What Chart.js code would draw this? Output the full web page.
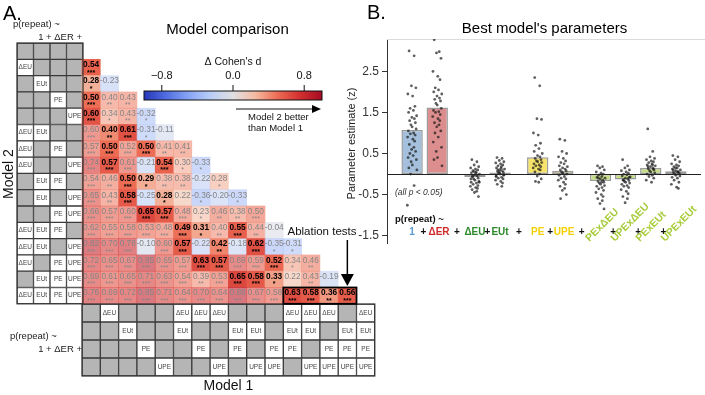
<!DOCTYPE html>
<html>
<head>
<meta charset="utf-8">
<script src="https://cdn.jsdelivr.net/npm/chart.js@4/dist/chart.umd.min.js"></script>
<style>
body{margin:0;background:#fff}
#wrap{position:relative;width:705px;height:395px}
canvas{position:absolute;left:0;top:0}
</style>
</head>
<body>
<div id="wrap">
<canvas id="cmp" width="705" height="395"></canvas>
<canvas id="par" width="705" height="395"></canvas>
</div>
<script>
Chart.defaults.font.family = "'Liberation Sans', Arial, sans-serif"

// ---------- A. model comparison ----------
let terms = ["ΔEU", "EUt", "PE", "UPE"]
let models = [
  [], ["ΔEU"], ["EUt"], ["PE"], ["UPE"],
  ["ΔEU","EUt"], ["ΔEU","PE"], ["ΔEU","UPE"], ["EUt","PE"], ["EUt","UPE"], ["PE","UPE"],
  ["ΔEU","EUt","PE"], ["ΔEU","EUt","UPE"], ["ΔEU","PE","UPE"], ["EUt","PE","UPE"],
  ["ΔEU","EUt","PE","UPE"]
]
// row = Model 2, column = Model 1
let dCohen = [
  [],
  [0.54],
  [0.28, -0.23],
  [0.50, 0.40, 0.43],
  [0.60, 0.34, 0.43, -0.32],
  [0.60, 0.40, 0.61, -0.31, -0.11],
  [0.57, 0.50, 0.52, 0.50, 0.41, 0.41],
  [0.74, 0.57, 0.61, -0.21, 0.54, 0.30, -0.33],
  [0.54, 0.46, 0.50, 0.29, 0.38, 0.38, -0.22, 0.28],
  [0.65, 0.43, 0.58, -0.25, 0.28, 0.22, -0.36, -0.20, -0.33],
  [0.66, 0.57, 0.60, 0.65, 0.57, 0.48, 0.23, 0.46, 0.38, 0.50],
  [0.62, 0.55, 0.58, 0.53, 0.48, 0.49, 0.31, 0.40, 0.55, 0.44, -0.04],
  [0.82, 0.70, 0.78, -0.10, 0.60, 0.57, -0.22, 0.42, -0.18, 0.62, -0.35, -0.31],
  [0.72, 0.65, 0.67, 0.85, 0.65, 0.57, 0.63, 0.57, 0.69, 0.59, 0.52, 0.34, 0.46],
  [0.69, 0.61, 0.65, 0.71, 0.63, 0.54, 0.39, 0.53, 0.65, 0.58, 0.33, 0.22, 0.43, -0.19],
  [0.76, 0.69, 0.72, 0.85, 0.71, 0.64, 0.70, 0.64, 0.88, 0.67, 0.58, 0.63, 0.58, 0.36, 0.56]
]
let nStars = [
  [],
  [3],
  [1, 0],
  [3, 2, 2],
  [3, 1, 2, 1],
  [3, 2, 3, 1, 0],
  [3, 3, 3, 3, 2, 2],
  [3, 3, 3, 0, 3, 1, 1],
  [3, 2, 3, 1, 2, 2, 0, 1],
  [3, 2, 3, 0, 1, 0, 1, 0, 1],
  [3, 3, 3, 3, 3, 3, 1, 2, 2, 3],
  [3, 3, 3, 3, 3, 3, 1, 2, 3, 2, 0],
  [3, 3, 3, 0, 3, 3, 0, 2, 0, 3, 1, 1],
  [3, 3, 3, 3, 3, 3, 3, 3, 3, 3, 3, 1, 2],
  [3, 3, 3, 3, 3, 3, 2, 3, 3, 3, 1, 0, 2, 0],
  [3, 3, 3, 3, 3, 3, 3, 3, 3, 3, 3, 3, 3, 2, 3]
]
let cbTicks = [-0.8, 0.0, 0.8]
let ablation = {row: 15, from: 11, to: 14}

// ---------- B. best model's parameters ----------
let barNames = ["1", "ΔER", "ΔEU", "EUt", "PE", "UPE", "PExΔEU", "UPExΔEU", "PExEUt", "UPExEUt"]
let barPos = [0, 1, 2.5, 3.5, 5, 6, 7.5, 8.5, 9.5, 10.5]
let barMeans = [1.07, 1.62, -0.07, 0.04, 0.41, 0.08, -0.17, -0.13, 0.15, 0.07]
let yTicks = [-1.5, -0.5, 0.5, 1.5, 2.5]
let ptsIntercept = [3.0, 2.88, 2.15, 2.1, 1.95, 1.9, 1.65, 1.6, 1.55, 1.5, 1.42, 1.38, 1.35, 1.3, 1.25, 1.2, 1.15, 1.1, 1.05, 1.0, 0.98, 0.95, 0.9, 0.85, 0.8, 0.72, 0.65, 0.6, 0.55, 0.5, 0.45, 0.4, 0.35, 0.3, 0.22, 0.15, 0.1, 0.0, -0.28, -0.76]
let ptsER = [3.27, 2.98, 2.95, 2.82, 2.5, 2.38, 2.3, 2.1, 2.05, 2.0, 1.95, 1.9, 1.85, 1.82, 1.78, 1.72, 1.68, 1.6, 1.55, 1.52, 1.5, 1.45, 1.4, 1.35, 1.3, 1.25, 1.2, 1.15, 1.05, 1.0, 0.9, 0.78, 0.65, 0.55, 0.4, 0.35, 0.2]
let ptsEU = [0.35, 0.3, 0.22, 0.18, 0.15, 0.12, 0.1, 0.08, 0.05, 0.03, 0.0, -0.02, -0.05, -0.07, -0.1, -0.12, -0.15, -0.18, -0.2, -0.22, -0.25, -0.28, -0.3, -0.33, -0.35, -0.38, -0.42, -0.45, -0.55, -0.05, 0.02, -0.12, -0.2, 0.06]
let ptsEUt = [0.4, 0.38, 0.33, 0.3, 0.27, 0.25, 0.22, 0.2, 0.18, 0.15, 0.12, 0.1, 0.08, 0.06, 0.04, 0.02, 0.0, -0.02, -0.05, -0.08, -0.1, -0.12, -0.15, -0.18, -0.22, -0.25, -0.3, 0.05, -0.03, 0.1, 0.14, -0.06]
let ptsPE = [2.35, 2.15, 1.35, 1.33, 1.0, 0.95, 0.75, 0.7, 0.62, 0.55, 0.5, 0.45, 0.42, 0.38, 0.35, 0.32, 0.3, 0.28, 0.25, 0.22, 0.2, 0.18, 0.15, 0.12, 0.1, 0.05, 0.0, -0.05, -0.12, -0.18, -0.2]
let ptsUPE = [0.85, 0.82, 0.55, 0.5, 0.42, 0.38, 0.32, 0.28, 0.25, 0.2, 0.18, 0.15, 0.12, 0.1, 0.08, 0.05, 0.02, 0.0, -0.03, -0.06, -0.1, -0.12, -0.15, -0.2, -0.25, -0.3, -0.35, -0.4, -0.5, -0.6]
let ptsPExEU = [0.2, 0.18, 0.15, 0.1, 0.05, 0.02, 0.0, -0.03, -0.06, -0.08, -0.1, -0.12, -0.15, -0.18, -0.2, -0.22, -0.25, -0.28, -0.3, -0.33, -0.36, -0.4, -0.45, -0.5, -0.55, -0.6, -0.65, -0.72, -0.85, -0.1, -0.2]
let ptsUPExEU = [0.35, 0.2, 0.15, 0.1, 0.08, 0.05, 0.02, 0.0, -0.02, -0.05, -0.07, -0.1, -0.12, -0.14, -0.16, -0.18, -0.2, -0.22, -0.25, -0.28, -0.3, -0.33, -0.38, -0.42, -0.48, -0.55, -0.6, -0.7, -0.08, -0.15]
let ptsPExEUt = [1.1, 0.55, 0.42, 0.38, 0.35, 0.32, 0.3, 0.28, 0.25, 0.22, 0.2, 0.18, 0.15, 0.13, 0.1, 0.08, 0.05, 0.03, 0.0, -0.03, -0.06, -0.1, -0.15, -0.2, 0.12, 0.18, 0.22]
let ptsUPExEUt = [0.45, 0.42, 0.35, 0.3, 0.25, 0.22, 0.2, 0.18, 0.15, 0.12, 0.1, 0.08, 0.06, 0.04, 0.02, 0.0, -0.03, -0.05, -0.08, -0.1, -0.15, -0.2, -0.25, -0.32, -0.35, 0.1, 0.05, 0.15]
let jitter = [-0.12, 0.08, -0.03, 0.15, -0.17, 0.02, 0.11, -0.08, 0.05, -0.14, 0.18, -0.01, 0.09, -0.1, 0.13, -0.05, 0.0, 0.16, -0.15, 0.06, -0.07, 0.12, -0.18, 0.03, 0.1, -0.11, 0.07, -0.02, 0.14, -0.09, 0.04, -0.16, 0.17, -0.04, 0.01, -0.13, 0.19, -0.06, 0.08, -0.19]

// formula under panel B: text, x position (same units as bars), colour key
let formula = [
  ["1", 0, "one"], ["+", 0.45, "op"], ["ΔER", 1.07, "er"], ["+", 1.78, "op"],
  ["ΔEU", 2.5, "eu"], ["+", 3.0, "op"], ["EUt", 3.5, "eu"], ["+", 4.25, "op"],
  ["PE", 5, "pe"], ["+", 5.5, "op"], ["UPE", 6.05, "pe"], ["+", 6.75, "op"],
  ["+", 8.0, "op"], ["+", 9.0, "op"], ["+", 10.0, "op"]
]
let rotated = [["PExΔEU", 7.5], ["UPExΔEU", 8.5], ["PExEUt", 9.5], ["UPExEUt", 10.5]]

// ---------- styles ----------
// diverging map, stops at -1, -0.75, ... , 1
let cw = [[40,55,185],[80,110,225],[135,165,245],[186,205,247],[224,224,227],[245,186,162],[236,108,84],[210,48,48],[165,10,35]]
function cmap(v) {
  let t = Math.max(0, Math.min(1, (v + 1) / 2)) * (cw.length - 1)
  let i = Math.min(Math.floor(t), cw.length - 2)
  let f = t - i
  return cw[i].map((a, k) => Math.round(a + (cw[i+1][k] - a) * f))
}
function nested(r, c) {
  let a = models[r], b = models[c]
  return a.length == b.length + 1 && b.every(t => a.includes(t))
}
let termCol = {one:"#5a9bd4", er:"#d02b2b", eu:"#2c8a2c", pe:"#f4d000", ix:"#a8cc3c", op:"#111"}
let barFill = ["#a5c0dc", "#dc8d8d", "#62a862", "#62a862", "#f7e36a", "#f7e36a", "#c7de88", "#c7de88", "#c7de88", "#c7de88"]

function txt(ctx, s, x, y, font, color, align, base) {
  ctx.font = font
  ctx.fillStyle = color
  ctx.textAlign = align || "center"
  ctx.textBaseline = base || "middle"
  ctx.fillText(s, x, y)
}
const FF = "'Liberation Sans', Arial, sans-serif"

// ---------- chart A ----------
let heat = [], heatBg = []
for (let r = 0; r < dCohen.length; r++) {
  for (let c = 0; c < dCohen[r].length; c++) {
    let v = dCohen[r][c]
    let b = nested(r, c)
    let rgb = cmap(v)
    heat.push({x: c, y: [r - 0.5, r + 0.5], v: v, s: nStars[r][c], b: b})
    heatBg.push(b ? "rgb(" + rgb + ")" : "rgba(" + rgb + ",0.6)")
  }
}
let rowCells = [], rowBg = []
models.forEach((m, r) => terms.forEach((t, k) => {
  rowCells.push({x: k, y: [r - 0.5, r + 0.5], t: m.includes(t) ? t : ""})
  rowBg.push(m.includes(t) ? "#ffffff" : "#b5b5b5")
}))
let colCells = [], colBg = []
models.forEach((m, c) => terms.forEach((t, k) => {
  colCells.push({x: c, y: [k - 0.5, k + 0.5], t: m.includes(t) ? t : ""})
  colBg.push(m.includes(t) ? "#ffffff" : "#b5b5b5")
}))

// layout of panel A (pixels)
const W = 705, H = 395
const colPx = 18.3, x0 = 82
const rowPx = 16.3, y0 = 43
const lcPx = 16.5, lx0 = 17
const brPx = 18, by0 = 304
const cbL = 144, cbR = 322
function lin(startPx, unit, size) { let mn = -0.5 - startPx / unit; return {min: mn, max: mn + size / unit} }

const panelA = {
  id: "panelA",
  afterDatasetsDraw(chart) {
    const ctx = chart.ctx
    const sx = chart.scales.x, sy = chart.scales.y, sxl = chart.scales.xl, syb = chart.scales.yb, scb = chart.scales.cb
    ctx.save()
    // cell texts
    heat.forEach(d => {
      let x = sx.getPixelForValue(d.x), y = sy.getPixelForValue((d.y[0] + d.y[1]) / 2)
      let col = d.b ? "#000" : "#858585"
      txt(ctx, d.v.toFixed(2), x, y - 2.6, (d.b ? "bold " : "") + "8.3px " + FF, col)
      if (d.s > 0) txt(ctx, "*".repeat(d.s), x, y + 5.2, (d.b ? "bold " : "") + "7px " + FF, col)
    })
    rowCells.forEach(d => {
      if (d.t) txt(ctx, d.t, sxl.getPixelForValue(d.x), sy.getPixelForValue((d.y[0] + d.y[1]) / 2), "6.5px " + FF, "#444")
    })
    colCells.forEach(d => {
      if (d.t) txt(ctx, d.t, sx.getPixelForValue(d.x), syb.getPixelForValue((d.y[0] + d.y[1]) / 2), "6.5px " + FF, "#444")
    })
    // outer frames of the model matrices
    ctx.strokeStyle = "#333"
    ctx.lineWidth = 1.2
    ctx.strokeRect(sxl.getPixelForValue(-0.5), sy.getPixelForValue(-0.5), sxl.getPixelForValue(3.5) - sxl.getPixelForValue(-0.5), sy.getPixelForValue(15.5) - sy.getPixelForValue(-0.5))
    ctx.strokeRect(sx.getPixelForValue(-0.5), syb.getPixelForValue(-0.5), sx.getPixelForValue(15.5) - sx.getPixelForValue(-0.5), syb.getPixelForValue(3.5) - syb.getPixelForValue(-0.5))
    // ablation box + arrow
    let ax0 = sx.getPixelForValue(ablation.from - 0.5), ax1 = sx.getPixelForValue(ablation.to + 0.5)
    let ay0 = sy.getPixelForValue(ablation.row - 0.5), ay1 = sy.getPixelForValue(ablation.row + 0.5)
    ctx.lineWidth = 1.8
    ctx.strokeStyle = "#000"
    ctx.strokeRect(ax0, ay0, ax1 - ax0, ay1 - ay0)
    let axc = sx.getPixelForValue(ablation.to)
    txt(ctx, "Ablation tests", ax1, 232, "11.5px " + FF, "#111", "right")
    ctx.lineWidth = 1.5
    ctx.beginPath(); ctx.moveTo(axc, 240); ctx.lineTo(axc, 276); ctx.stroke()
    ctx.fillStyle = "#000"
    ctx.beginPath(); ctx.moveTo(axc - 6.5, 274); ctx.lineTo(axc + 6.5, 274); ctx.lineTo(axc, ay0 - 1.5); ctx.closePath(); ctx.fill()
    // colour bar
    let cx0 = scb.getPixelForValue(-1), cx1 = scb.getPixelForValue(1)
    let g = ctx.createLinearGradient(cx0, 0, cx1, 0)
    for (let i = 0; i <= 40; i++) { let v = -1 + i / 20; g.addColorStop(i / 40, "rgb(" + cmap(v) + ")") }
    ctx.fillStyle = g
    ctx.fillRect(cx0, 91, cx1 - cx0, 9)
    ctx.lineWidth = 1
    ctx.strokeStyle = "#111"
    ctx.strokeRect(cx0, 91, cx1 - cx0, 9)
    cbTicks.forEach(v => {
      let x = scb.getPixelForValue(v)
      ctx.beginPath(); ctx.moveTo(x, 85); ctx.lineTo(x, 91); ctx.stroke()
      txt(ctx, (v < 0 ? "\u2212" : "") + Math.abs(v).toFixed(1), x, 76, "11px " + FF, "#111")
    })
    txt(ctx, "Δ Cohen's d", scb.getPixelForValue(0), 62, "10.5px " + FF, "#111")
    ctx.lineWidth = 1.2
    ctx.beginPath(); ctx.moveTo(236, 109); ctx.lineTo(314, 109); ctx.stroke()
    ctx.fillStyle = "#000"
    ctx.beginPath(); ctx.moveTo(312, 105); ctx.lineTo(321, 109); ctx.lineTo(312, 113); ctx.closePath(); ctx.fill()
    txt(ctx, "Model 2 better", 248, 117, "9.5px " + FF, "#111", "left")
    txt(ctx, "than Model 1", 248, 128, "9.5px " + FF, "#111", "left")
    // titles and labels
    txt(ctx, "A.", 3, 14, "20px " + FF, "#000", "left")
    txt(ctx, "Model comparison", 227.5, 30, "15px " + FF, "#000")
    txt(ctx, "p(repeat) ~", 13, 24, "9.5px " + FF, "#222", "left")
    txt(ctx, "1 + ΔER +", 82, 37, "9.5px " + FF, "#222", "right")
    txt(ctx, "p(repeat) ~", 10, 336, "9.5px " + FF, "#222", "left")
    txt(ctx, "1 + ΔER +", 82, 349, "9.5px " + FF, "#222", "right")
    txt(ctx, "Model 1", sx.getPixelForValue(7.5), 386, "14px " + FF, "#111")
    ctx.translate(9, 174); ctx.rotate(-Math.PI / 2)
    txt(ctx, "Model 2", 0, 0, "14px " + FF, "#111")
    ctx.restore()
  }
}

new Chart(document.getElementById("cmp"), {
  type: "bar",
  data: {
    datasets: [
      {data: heat, backgroundColor: heatBg, borderWidth: 0, xAxisID: "x", yAxisID: "y", grouped: false, barPercentage: 1, categoryPercentage: 1},
      {data: rowCells, backgroundColor: rowBg, borderColor: "#3a3a3a", borderWidth: 1, borderSkipped: false, xAxisID: "xl", yAxisID: "y", grouped: false, barPercentage: 1, categoryPercentage: 1},
      {data: colCells, backgroundColor: colBg, borderColor: "#3a3a3a", borderWidth: 1, borderSkipped: false, xAxisID: "x", yAxisID: "yb", grouped: false, barPercentage: 1, categoryPercentage: 1}
    ]
  },
  options: {
    responsive: false, animation: false, events: [],
    layout: {padding: 0},
    plugins: {legend: {display: false}, tooltip: {enabled: false}},
    scales: {
      x: Object.assign({type: "linear", display: false, offset: false, bounds: "data"}, lin(x0, colPx, W)),
      xl: Object.assign({type: "linear", axis: "x", display: false, offset: false, bounds: "data"}, lin(lx0, lcPx, W)),
      cb: {type: "linear", axis: "x", display: false, offset: false, bounds: "data", min: -1 - cbL * 2 / (cbR - cbL), max: -1 + (W - cbL) * 2 / (cbR - cbL)},
      y: Object.assign({type: "linear", display: false, reverse: true, offset: false, bounds: "data"}, lin(y0, rowPx, H)),
      yb: Object.assign({type: "linear", axis: "y", display: false, reverse: true, offset: false, bounds: "data"}, lin(by0, brPx, H))
    }
  },
  plugins: [panelA]
})

// ---------- chart B ----------
let ptsAll = [ptsIntercept, ptsER, ptsEU, ptsEUt, ptsPE, ptsUPE, ptsPExEU, ptsUPExEU, ptsPExEUt, ptsUPExEUt]
let pointData = []
ptsAll.forEach((arr, i) => arr.forEach((v, j) => pointData.push({x: barPos[i] + jitter[j % jitter.length], y: v})))

const panelB = {
  id: "panelB",
  beforeDatasetsDraw(chart) {
    const ctx = chart.ctx, a = chart.chartArea
    ctx.save()
    ctx.strokeStyle = "#dcdcdc"; ctx.lineWidth = 1
    ctx.beginPath(); ctx.moveTo(a.left, a.top + 0.5); ctx.lineTo(W, a.top + 0.5); ctx.stroke()
    ctx.restore()
  },
  afterDatasetsDraw(chart) {
    const ctx = chart.ctx, a = chart.chartArea, sx = chart.scales.x, sy = chart.scales.y
    ctx.save()
    let y0p = Math.round(sy.getPixelForValue(0)) + 0.5
    ctx.strokeStyle = "#222"; ctx.lineWidth = 1
    ctx.beginPath(); ctx.moveTo(a.left, y0p); ctx.lineTo(a.right, y0p); ctx.stroke()
    txt(ctx, "B.", 367, 13, "20px " + FF, "#000", "left")
    txt(ctx, "Best model's parameters", 544.5, 29, "15px " + FF, "#000")
    txt(ctx, "(all p < 0.05)", 395, 193, "italic 8.5px " + FF, "#333", "left")
    txt(ctx, "p(repeat) ~", 395, 219, "bold 9.5px " + FF, "#111", "left")
    formula.forEach(f => txt(ctx, f[0], sx.getPixelForValue(f[1]), 232, "bold 10px " + FF, termCol[f[2]]))
    rotated.forEach(f => {
      ctx.save()
      ctx.translate(sx.getPixelForValue(f[1]) - 11, 242)
      ctx.rotate(-Math.PI / 4)
      txt(ctx, f[0], 0, 0, "bold 10.5px " + FF, termCol.ix, "left", "alphabetic")
      ctx.restore()
    })
    ctx.translate(352, 143.5); ctx.rotate(-Math.PI / 2)
    txt(ctx, "Parameter estimate (z)", 0, 0, "11px " + FF, "#222")
    ctx.restore()
  }
}

new Chart(document.getElementById("par"), {
  type: "bar",
  data: {
    datasets: [
      {type: "scatter", data: pointData, pointRadius: 1.4, backgroundColor: "rgba(25,25,25,0.7)", borderWidth: 0, order: 1},
      {type: "bar", data: barPos.map((p, i) => ({x: p, y: barMeans[i]})), backgroundColor: barFill, borderColor: "#9b9b9b", borderWidth: 1.5, borderSkipped: false, grouped: false, barPercentage: 0.85, categoryPercentage: 1, order: 2}
    ]
  },
  options: {
    responsive: false, animation: false, events: [],
    layout: {padding: {left: 357, right: 2, top: 39, bottom: 152}},
    plugins: {legend: {display: false}, tooltip: {enabled: false}},
    scales: {
      x: {type: "linear", min: -1, max: 11.5, display: false, offset: false, bounds: "data"},
      y: {
        type: "linear", min: -1.68, max: 3.29, bounds: "data",
        afterBuildTicks: s => { s.ticks = yTicks.map(v => ({value: v})) },
        afterFit: s => { s.width = 30 },
        ticks: {font: {size: 12}, color: "#333", padding: 3},
        grid: {drawOnChartArea: false, color: "#333", tickLength: 5},
        border: {color: "#333", width: 1}
      }
    }
  },
  plugins: [panelB]
})
</script>
</body>
</html>
